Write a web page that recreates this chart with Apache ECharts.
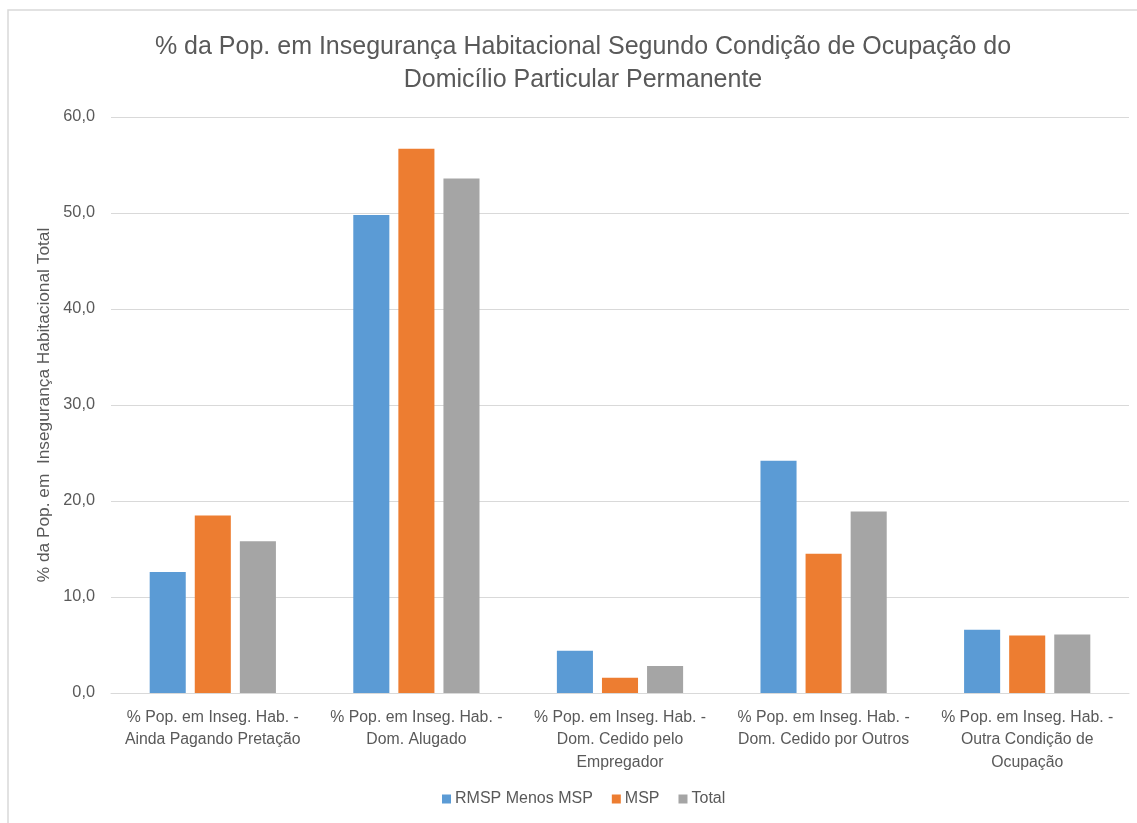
<!DOCTYPE html>
<html>
<head>
<meta charset="utf-8">
<script src="https://cdn.jsdelivr.net/npm/echarts@6/dist/echarts.min.js"></script>
<style>html,body{margin:0;padding:0;background:#fff}#c{width:1137px;height:823px}</style>
</head>
<body>
<div id="c"></div>
<script>
const categories = [
  "% Pop. em Inseg. Hab. -\nAinda Pagando Pretação",
  "% Pop. em Inseg. Hab. -\nDom. Alugado",
  "% Pop. em Inseg. Hab. -\nDom. Cedido pelo\nEmpregador",
  "% Pop. em Inseg. Hab. -\nDom. Cedido por Outros",
  "% Pop. em Inseg. Hab. -\nOutra Condição de\nOcupação"
];
const rmspMenosMsp = [12.6, 49.8, 4.4, 24.2, 6.6];
const msp = [18.5, 56.7, 1.6, 14.5, 6.0];
const total = [15.8, 53.6, 2.8, 18.9, 6.1];
const seriesNames = ["RMSP Menos MSP", "MSP", "Total"];
const titleText = "% da Pop. em Insegurança Habitacional Segundo Condição de Ocupação do\nDomicílio Particular Permanente";
const yAxisName = "% da Pop. em  Insegurança Habitacional Total";

const FONT = "'Liberation Sans Narrow', 'Liberation Sans', sans-serif";
const chart = echarts.init(document.getElementById('c'));
chart.setOption({
  animation: false,
  backgroundColor: '#fff',
  color: ['#5B9BD5', '#ED7D31', '#A5A5A5'],
  graphic: [{
    type: 'polyline',
    shape: { points: [[8, 830], [8, 10], [1145, 10]] },
    style: { stroke: '#D9D9D9', lineWidth: 1.5, fill: null }
  }],
  title: {
    text: titleText,
    left: 578, top: 26, textAlign: 'center',
    textStyle: { fontFamily: FONT, fontSize: 25, fontWeight: 'normal', color: '#595959', lineHeight: 33 }
  },
  legend: {
    data: seriesNames,
    bottom: 11, left: 437,
    itemWidth: 9, itemHeight: 9, itemGap: 19,
    icon: 'rect',
    textStyle: { fontFamily: FONT, fontSize: 16, color: '#595959', padding: [0, 0, 0, -1] }
  },
  grid: { left: 111, right: 8, top: 117, bottom: 130 },
  xAxis: {
    type: 'category',
    data: categories,
    axisLine: { lineStyle: { color: '#D9D9D9' } },
    axisTick: { show: false },
    axisLabel: { interval: 0, fontFamily: FONT, fontSize: 15.8, color: '#595959', lineHeight: 22.5, margin: 13 }
  },
  yAxis: {
    type: 'value', min: 0, max: 60, interval: 10,
    name: yAxisName, nameLocation: 'middle', nameGap: 53, nameRotate: 90,
    nameTextStyle: { fontFamily: FONT, fontSize: 17.3, color: '#595959' },
    axisLine: { show: false }, axisTick: { show: false },
    splitLine: { lineStyle: { color: '#D9D9D9' } },
    axisLabel: { fontFamily: FONT, fontSize: 16.3, color: '#595959', margin: 16,
      formatter: v => v.toFixed(1).replace('.', ',') }
  },
  series: [
    { name: seriesNames[0], type: 'bar', data: rmspMenosMsp, barGap: '25%', barCategoryGap: '38%' },
    { name: seriesNames[1], type: 'bar', data: msp, barGap: '25%', barCategoryGap: '38%' },
    { name: seriesNames[2], type: 'bar', data: total, barGap: '25%', barCategoryGap: '38%' }
  ]
});
</script>
</body>
</html>
